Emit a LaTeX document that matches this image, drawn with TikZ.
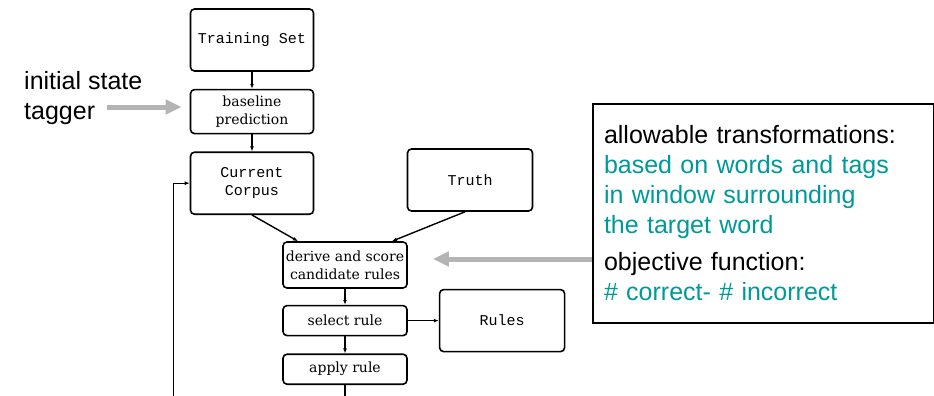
\documentclass[tikz,border=0pt]{standalone}
\usepackage{fontspec}
\setsansfont{Liberation Sans}
\setmonofont{Liberation Mono}
\newfontfamily\boxserif{DejaVu Serif}
\usepackage{xcolor}
\usetikzlibrary{arrows.meta, positioning}
\definecolor{hintgrey}{HTML}{B4B4B4}
\definecolor{tealtext}{HTML}{009999}

\begin{document}
\begin{tikzpicture}[x=1pt, y=-1pt,
  box/.style={draw, line width=1.6pt, rounded corners=4pt, align=center,
              minimum width=123pt, inner sep=2pt},
  codebox/.style={box, font=\ttfamily\fontsize{15}{18}\selectfont},
  textbox/.style={box, font=\boxserif\fontsize{14}{18}\selectfont},
  link/.style={-{Latex[length=5pt,width=4pt]}, line width=1.4pt},
  hint/.style={-{Triangle[length=16pt,width=14pt]}, line width=5pt, color=hintgrey},
  side/.style={font=\sffamily\fontsize{25}{30}\selectfont, align=left, inner sep=0pt},
]
\useasboundingbox (0,0) rectangle (934,396);
\node[codebox, minimum height=62pt] (train) at (252,40) {Training Set};
\node[textbox, minimum height=44pt, below=17pt of train] (base) {baseline\\prediction};
\node[codebox, minimum height=62pt, below=17pt of base] (corpus) {Current\\Corpus};
\node[codebox, minimum height=62pt, minimum width=125pt] (truth) at (470,180) {Truth};
\node[textbox, minimum height=46pt, minimum width=124pt] (derive) at (345,265)
  {derive and score\\candidate rules};
\node[textbox, minimum height=30pt, minimum width=124pt, below=16pt of derive] (select) {select rule};
\node[textbox, minimum height=30pt, minimum width=124pt, below=17pt of select] (apply) {apply rule};
\node[codebox, minimum height=62pt, minimum width=125pt, right=31pt of select] (rules) {Rules};

% side notes
\node[side, anchor=west] (tagger) at (24,98) {initial state\\tagger};
\node[side, draw, line width=2pt, anchor=north west, minimum width=341pt, minimum height=219pt,
      text width=319pt, inner xsep=11pt] (note) at (592,103)
  {allowable transformations:\\
   \color{tealtext}based on words and tags\\
   in window surrounding\\
   the target word\\[7pt]
   \color{black}objective function:\\
   \color{tealtext}\# correct- \# incorrect};
\coordinate (tagstart) at (107,107);
\coordinate (notestart) at (592,259);

\draw[link] (train) -- (base);
\draw[link] (base) -- (corpus);
\draw[link] (corpus.south) -- ([xshift=-47pt]derive.north);
\draw[link] ([xshift=-5pt]truth.south) -- ([xshift=47pt]derive.north);
\draw[link] (derive) -- (select);
\draw[link] (select) -- (apply);
\draw[link] (select) -- (rules);
\draw[link] (apply.south) -- ++(0,50) -| ([xshift=-16pt]corpus.west) -- (corpus.west);
\draw[hint, shorten >=8pt] (tagstart) -- (tagstart -| base.west);
\draw[hint, shorten >=25pt] (notestart) -- (notestart -| derive.east);
\end{tikzpicture}
\end{document}
